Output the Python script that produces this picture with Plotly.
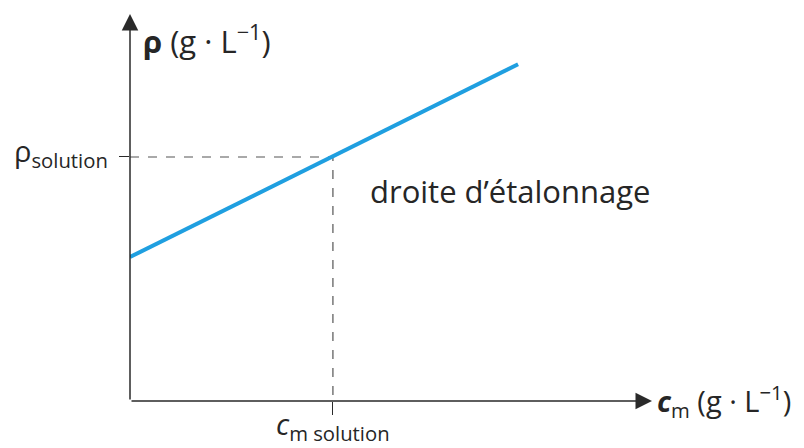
import plotly.graph_objects as go

# concentration (arbitrary units) and density along the calibration line
cm_line = [0.0, 7.65]
rho_line = [0.59, 1.38]

cm_solution = 4.0
rho_solution = 1.0

cm_max = 10.29
rho_max = 1.586

line_color = "#1f9fe0"
axis_color = "#2a2a2a"
text_color = "#262626"
font_family = "Open Sans, Lato, sans-serif"

fig = go.Figure()

# dashed reading lines
fig.add_trace(go.Scatter(
    x=[0, cm_solution, cm_solution], y=[rho_solution, rho_solution, 0],
    mode="lines", line=dict(color="#555555", width=1.2, dash="dash"),
    hoverinfo="skip", showlegend=False,
))

# calibration line
fig.add_trace(go.Scatter(
    x=cm_line, y=rho_line, mode="lines",
    line=dict(color=line_color, width=4),
    showlegend=False,
))

# axes drawn as arrows
fig.add_annotation(x=cm_max, y=0, ax=0, ay=0, xref="x", yref="y", axref="x", ayref="y",
                   text="", showarrow=True, arrowhead=2, arrowsize=2.2, arrowwidth=1.5,
                   arrowcolor=axis_color)
fig.add_annotation(x=0, y=rho_max, ax=0, ay=0, xref="x", yref="y", axref="x", ayref="y",
                   text="", showarrow=True, arrowhead=2, arrowsize=2.2, arrowwidth=1.5,
                   arrowcolor=axis_color)

# axis titles
fig.add_annotation(x=0.022, y=0.935, xref="paper", yref="paper", xanchor="left", yanchor="middle",
                   text="<b>ρ</b> (g · L<sup>−1</sup>)", showarrow=False,
                   font=dict(size=31, color=text_color, family=font_family))
fig.add_annotation(x=1.006, y=0.0, xref="paper", yref="paper", xanchor="left", yanchor="middle",
                   text="<b><i>c</i></b><sub>m</sub> (g · L<sup>−1</sup>)", showarrow=False,
                   font=dict(size=29, color=text_color, family=font_family))

fig.add_annotation(x=7.49, y=0.86, xref="x", yref="y", xanchor="center", yanchor="middle",
                   text="droite d’étalonnage", showarrow=False,
                   font=dict(size=31, color=text_color, family=font_family))

# tick labels placed as annotations for finer positioning
fig.add_annotation(x=0, y=rho_solution, xref="x", yref="y", xanchor="right", yanchor="middle",
                   xshift=-20, yshift=4, text="ρ<sub>solution</sub>", showarrow=False,
                   font=dict(size=29, color=text_color, family=font_family))
fig.add_annotation(x=cm_solution, y=0, xref="x", yref="y", xanchor="center", yanchor="top",
                   yshift=-1, text="<i>c</i><sub>m solution</sub>", showarrow=False,
                   font=dict(size=29, color=text_color, family=font_family))

fig.update_xaxes(
    range=[0, cm_max], showgrid=False, zeroline=False, showline=False, automargin=False,
    tickvals=[cm_solution], showticklabels=False,
    ticks="outside", ticklen=13, tickwidth=1.2, tickcolor=axis_color,
)
fig.update_yaxes(
    range=[0, rho_max], showgrid=False, zeroline=False, showline=False, automargin=False,
    tickvals=[rho_solution], showticklabels=False,
    ticks="outside", ticklen=10, tickwidth=1.2, tickcolor=axis_color,
)

# page body adds ~8px offset, so shift the plot area up/left to compensate
fig.update_layout(
    width=804, height=448,
    margin=dict(l=122, r=160, t=6, b=55),
    plot_bgcolor="white", paper_bgcolor="white",
)

fig.write_html("out.html")
